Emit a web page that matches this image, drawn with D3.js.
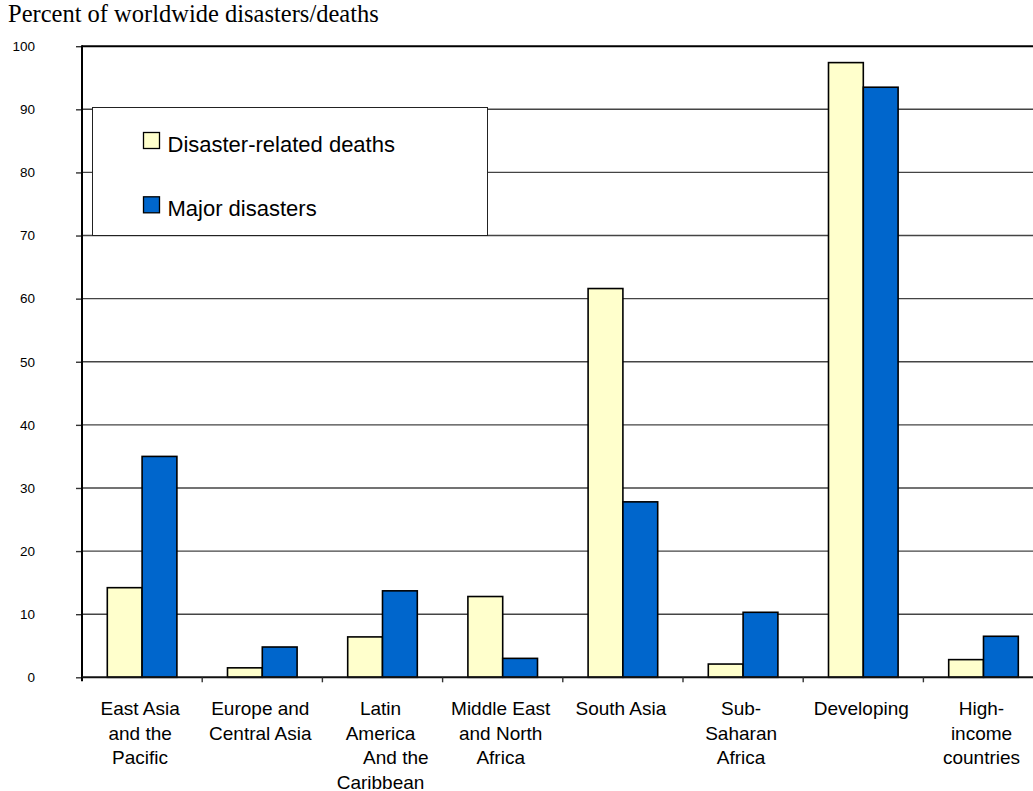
<!DOCTYPE html>
<html>
<head>
<meta charset="utf-8">
<script src="https://cdn.jsdelivr.net/npm/d3@7"></script>
<style>
  html, body { margin: 0; padding: 0; background: #fff; overflow: hidden; }
  svg { display: block; }
  text { font-family: "Liberation Sans", Arial, sans-serif; fill: #000; }
</style>
</head>
<body>
<svg id="chart" width="1033" height="791"></svg>
<script>
// Regions shown on the x axis; each entry holds the wrapped label lines
const categories = [
  "East Asia and the Pacific",
  "Europe and Central Asia",
  "Latin America And the Caribbean",
  "Middle East and North Africa",
  "South Asia",
  "Sub-Saharan Africa",
  "Developing",
  "High-income countries"
];
const categoryLines = [
  ["East Asia", "and the", "Pacific"],
  ["Europe and", "Central Asia"],
  ["Latin", "America", "      And the", "Caribbean"],
  ["Middle East", "and North", "Africa"],
  ["South Asia"],
  ["Sub-", "Saharan", "Africa"],
  ["Developing"],
  ["High-", "income", "countries"]
];

// Share of worldwide totals, percent
const seriesNames = ["Disaster-related deaths", "Major disasters"];
const deaths    = [14.2, 1.5, 6.4, 12.8, 61.6, 2.1, 97.4, 2.8];
const disasters = [35.0, 4.8, 13.7, 3.0, 27.8, 10.3, 93.5, 6.5];
const seriesColors = ["#FFFFCC", "#0066CC"];

const yTicks = [0, 10, 20, 30, 40, 50, 60, 70, 80, 90, 100];
const titleText = "Percent of worldwide disasters/deaths";

const svg = d3.select("#chart");

const plotLeft = 82, plotTop = 46.2, plotBottom = 677.3;
const bandW = 120.2;
const plotRight = plotLeft + bandW * categories.length;

const x = d3.scaleBand()
  .domain(categories)
  .range([plotLeft, plotRight])
  .padding(0);

const xInner = d3.scaleBand()
  .domain(seriesNames)
  .range([25.3, bandW - 25.3])
  .padding(0);

const y = d3.scaleLinear()
  .domain([0, 100])
  .range([plotBottom, plotTop]);

// Title
svg.append("text")
  .attr("x", 8)
  .attr("y", 22)
  .style("font-family", "'Liberation Serif', 'Times New Roman', serif")
  .style("font-size", "24.5px")
  .text(titleText);

// Horizontal gridlines
svg.append("g")
  .selectAll("line")
  .data(yTicks.filter(t => t > 0))
  .join("line")
  .attr("x1", plotLeft)
  .attr("x2", 1040)
  .attr("y1", d => y(d))
  .attr("y2", d => y(d))
  .attr("stroke", d => d === 100 ? "#000" : "#444")
  .attr("stroke-width", d => d === 100 ? 2 : 1.4);

// Y axis with outward ticks
const yAxis = d3.axisLeft(y)
  .tickValues(yTicks)
  .tickSize(6)
  .tickPadding(41)
  .tickFormat(d3.format("d"));

const yG = svg.append("g")
  .attr("transform", `translate(${plotLeft},0)`)
  .call(yAxis);
yG.select(".domain").remove();
yG.selectAll(".tick line").attr("stroke", "#333").attr("stroke-width", 1.4);
yG.selectAll(".tick text")
  .style("font-family", "'Liberation Sans', Arial, sans-serif")
  .style("font-size", "13.5px")
  .attr("fill", "#000");

// Legend box (drawn over the gridlines)
const legend = svg.append("g");
legend.append("rect")
  .attr("x", 92.5).attr("y", 107.5)
  .attr("width", 395).attr("height", 128)
  .attr("fill", "#fff")
  .attr("stroke", "#222")
  .attr("stroke-width", 1);

const legendRows = legend.selectAll("g.row")
  .data(seriesNames)
  .join("g")
  .attr("class", "row")
  .attr("transform", (d, i) => `translate(143.5, ${132.5 + i * 64.3})`);

legendRows.append("rect")
  .attr("width", 16).attr("height", 16)
  .attr("fill", (d, i) => seriesColors[i])
  .attr("stroke", "#000")
  .attr("stroke-width", 1.3);

legendRows.append("text")
  .attr("x", 24)
  .attr("y", 19.5)
  .style("font-size", "22px")
  .text(d => d);

// Bars
const rows = categories.map((c, i) => ({
  category: c,
  values: [
    { series: seriesNames[0], value: deaths[i], color: seriesColors[0] },
    { series: seriesNames[1], value: disasters[i], color: seriesColors[1] }
  ]
}));

const groups = svg.append("g")
  .selectAll("g")
  .data(rows)
  .join("g")
  .attr("transform", d => `translate(${x(d.category)},0)`);

groups.selectAll("rect")
  .data(d => d.values)
  .join("rect")
  .attr("x", d => xInner(d.series))
  .attr("width", xInner.bandwidth())
  .attr("y", d => y(d.value))
  .attr("height", d => y(0) - y(d.value))
  .attr("fill", d => d.color)
  .attr("stroke", "#000")
  .attr("stroke-width", 1.6);

// Y axis line and baseline
svg.append("line")
  .attr("x1", plotLeft).attr("x2", plotLeft)
  .attr("y1", plotTop - 1).attr("y2", plotBottom + 4)
  .attr("stroke", "#000").attr("stroke-width", 2);

const xAxis = d3.axisBottom(x).tickSize(0).tickFormat("");
const xG = svg.append("g")
  .attr("transform", `translate(0,${plotBottom})`)
  .call(xAxis);
xG.select(".domain")
  .attr("d", `M${plotLeft},0H1040`)
  .attr("stroke", "#111")
  .attr("stroke-width", 2);

// Category boundary ticks below the baseline
svg.append("g")
  .selectAll("line")
  .data(categories.slice(1))
  .join("line")
  .attr("x1", d => x(d)).attr("x2", d => x(d))
  .attr("y1", plotBottom).attr("y2", plotBottom + 5)
  .attr("stroke", "#333").attr("stroke-width", 1.4);

// Wrapped category labels
const labelG = svg.append("g")
  .selectAll("text")
  .data(categories)
  .join("text")
  .attr("text-anchor", "middle")
  .style("font-size", "19px")
  .style("white-space", "pre")
  .attr("transform", d => `translate(${x(d) + bandW / 2 - 2}, 715)`);

labelG.selectAll("tspan")
  .data((d, i) => categoryLines[i])
  .join("tspan")
  .attr("x", 0)
  .attr("y", (d, i) => i * 24.5)
  .text(d => d);
</script>
</body>
</html>
